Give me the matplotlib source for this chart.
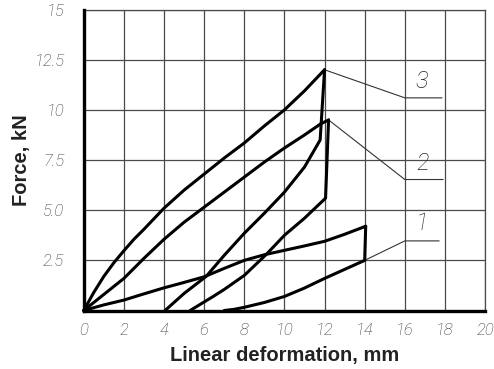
import matplotlib
matplotlib.use("Agg")
import matplotlib.pyplot as plt

# ---- data ----
x_ticks = [0, 2, 4, 6, 8, 10, 12, 14, 16, 18, 20]
y_ticks = [2.5, 5.0, 7.5, 10, 12.5, 15]
y_tick_labels = ["2.5", "5.0", "7.5", "10", "12.5", "15"]

# curve 3
c3_load_x = [0, 0.5, 1, 1.5, 2, 2.5, 3, 4, 5, 6, 7, 8, 9, 10, 11, 12]
c3_load_y = [0, 0.9, 1.7, 2.38, 2.98, 3.55, 4.05, 5.1, 6.0, 6.8, 7.6, 8.35, 9.2, 10.0, 10.95, 12.0]
c3_unload_x = [12, 11.78, 11, 10, 9, 8, 7, 6.1, 5, 4.05]
c3_unload_y = [12, 8.5, 7.15, 5.9, 4.85, 3.85, 2.75, 1.7, 0.85, 0]

# curve 2
c2_load_x = [0, 1, 2, 3, 4, 5, 6, 7, 8, 9, 10, 11, 11.8, 12.2]
c2_load_y = [0, 0.8, 1.6, 2.6, 3.55, 4.4, 5.15, 5.9, 6.65, 7.4, 8.1, 8.75, 9.3, 9.5]
c2_unload_x = [12.2, 12.05, 11, 10, 9.1, 8, 7, 6.45, 5.3]
c2_unload_y = [9.5, 5.6, 4.6, 3.75, 2.8, 1.75, 1.05, 0.7, 0]

# curve 1
c1_load_x = [0, 1, 2, 3, 4, 5, 6, 7, 8, 9, 10, 11, 12, 13, 14.05]
c1_load_y = [0, 0.28, 0.52, 0.83, 1.13, 1.4, 1.68, 2.1, 2.5, 2.78, 3.0, 3.22, 3.45, 3.8, 4.2]
c1_unload_x = [14.05, 14.0, 13, 12, 11, 10, 9, 8, 7.5, 7.0]
c1_unload_y = [4.2, 2.5, 2.05, 1.6, 1.12, 0.7, 0.4, 0.16, 0.06, 0]

# leader lines: start point, elbow, end of shelf; label position
labels = ["3", "2", "1"]
leader_x = [[12.0, 16.0, 17.84], [12.2, 16.0, 17.9], [14.0, 16.0, 17.7]]
leader_y = [[12.0, 10.6, 10.6], [9.5, 6.53, 6.53], [2.5, 3.47, 3.47]]
label_x = [16.85, 16.9, 16.85]
label_y = [11.4, 7.35, 4.35]

# ---- figure ----
fig = plt.figure(figsize=(4.94, 3.69), dpi=100)
ax = fig.add_axes([0.1695, 0.1585, 0.8125, 0.8155])
ax.set_xlim(0, 20)
ax.set_ylim(0, 15)

grid_col = "#4a4a4a"
for gx in x_ticks[1:]:
    ax.axvline(gx, color=grid_col, lw=0.9, zorder=1)
for gy in y_ticks:
    ax.axhline(gy, color=grid_col, lw=0.9, zorder=1)

lw = 2.2
for xs, ys in [(c3_load_x, c3_load_y), (c3_unload_x, c3_unload_y),
               (c2_load_x, c2_load_y), (c2_unload_x, c2_unload_y),
               (c1_load_x, c1_load_y), (c1_unload_x, c1_unload_y)]:
    ax.plot(xs, ys, color="black", lw=lw, solid_joinstyle="round",
            solid_capstyle="round", zorder=3, clip_on=False)

tick_font = dict(family=["Roboto", "DejaVu Sans"], style="italic", weight="light")
for lab, lx, ly, tx, ty in zip(labels, leader_x, leader_y, label_x, label_y):
    ax.plot(lx, ly, color="#333333", lw=0.8, zorder=2)
    ax.text(tx, ty, lab, fontsize=17, ha="center", va="center",
            color="#222222", **tick_font)

for side in ["top", "right"]:
    ax.spines[side].set_color(grid_col)
    ax.spines[side].set_linewidth(0.9)
for side in ["left", "bottom"]:
    ax.spines[side].set_color("black")
    ax.spines[side].set_linewidth(2.4)
    ax.spines[side].set_zorder(4)

ax.set_xticks(x_ticks)
ax.set_xticklabels([str(t) for t in x_ticks])
ax.set_yticks(y_ticks)
ax.set_yticklabels(y_tick_labels)
ax.tick_params(axis="both", length=0, colors="#333333")
ax.tick_params(axis="x", pad=9)
ax.tick_params(axis="y", pad=14)
for t in ax.get_xticklabels() + ax.get_yticklabels():
    t.set_fontfamily(["Roboto", "DejaVu Sans"])
    t.set_fontstyle("italic")
    t.set_fontweight("light")
    t.set_fontsize(12)

ax.set_xlabel("Linear deformation, mm", fontsize=14.5, fontweight="bold",
              family=["Liberation Sans", "DejaVu Sans"], color="#222222", labelpad=6)
ax.set_ylabel("Force, kN", fontsize=14.5, fontweight="bold",
              family=["Liberation Sans", "DejaVu Sans"], color="#222222", labelpad=2)

fig.savefig("out.png", dpi=100)
